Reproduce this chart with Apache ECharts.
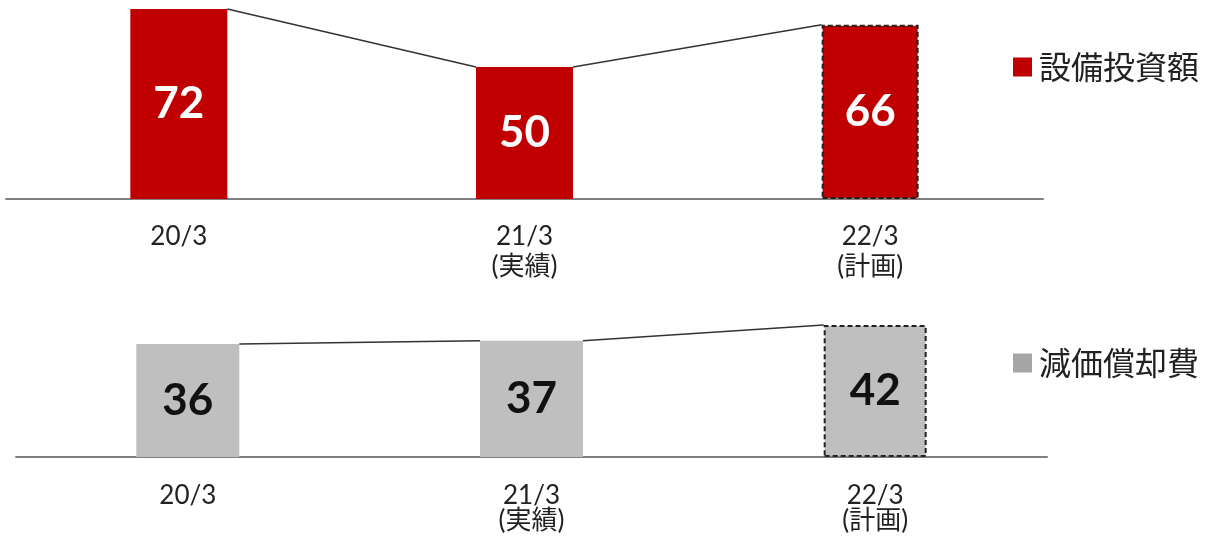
<!DOCTYPE html>
<html>
<head>
<meta charset="utf-8">
<script src="https://cdn.jsdelivr.net/npm/echarts@6/dist/echarts.min.js"></script>
<style>
  html, body { margin: 0; padding: 0; background: #fff; }
  #chart { width: 1208px; height: 537px; }
</style>
</head>
<body>
<div id="chart"></div>
<script>
// カテゴリ
const categories = ['20/3', '21/3\n(実績)', '22/3\n(計画)']
// 設備投資額
const capexValues = [72, 50, 66]
// 減価償却費
const deprValues = [36, 37, 42]
// 計画値（点線枠）のインデックス
const planIndex = 2

const RED = '#C00000'
const GRAY = '#BFBFBF'
const TOP_BAR_W = 97
const BOT_BAR_W = 103
const FONT = 'Lato, "Noto Sans CJK JP", sans-serif'

// 隣り合う棒の角を結ぶ線
function connector(barW) {
  return function(params, api) {
    const i = api.value(0)
    const a = api.coord([i, api.value(1)])
    const b = api.coord([i + 1, api.value(2)])
    const hw = barW / 2
    return {
      type: 'line',
      shape: { x1: a[0] + hw, y1: a[1], x2: b[0] - hw, y2: b[1] },
      style: { stroke: '#333', lineWidth: 1.5 }
    }
  }
}

function pairs(values) {
  const out = []
  for (let i = 0; i < values.length - 1; i++) out.push([i, values[i], values[i + 1]])
  return out
}

function barData(values) {
  return values.map((v, i) => {
    if (i !== planIndex) return v
    return {
      value: v,
      itemStyle: { borderColor: '#222', borderWidth: 2, borderType: [5, 3] }
    }
  })
}

function xAxis(gridIndex, lineHeight, margin) {
  return {
    type: 'category',
    gridIndex,
    data: categories,
    axisTick: { show: false },
    axisLine: { lineStyle: { color: '#808080', width: 2 } },
    axisLabel: {
      margin,
      color: '#222',
      fontSize: 26,
      lineHeight,
      fontFamily: FONT,
      interval: 0
    }
  }
}

function yAxis(gridIndex, max) {
  return {
    type: 'value',
    gridIndex,
    min: 0,
    max,
    show: false,
    splitLine: { show: false }
  }
}

const myChart = echarts.init(document.getElementById('chart'))
myChart.setOption({
  animation: false,
  grid: [
    { left: 6, width: 1037, top: 9, height: 190 },
    { left: 16, width: 1031, top: 300, height: 157 }
  ],
  xAxis: [xAxis(0, 30, 23), xAxis(1, 25, 26)],
  yAxis: [yAxis(0, 72), yAxis(1, 50)],
  legend: [
    {
      data: ['設備投資額'],
      left: 1008,
      top: 44,
      icon: 'rect',
      itemWidth: 19,
      itemHeight: 19,
      textStyle: { fontSize: 32, color: '#222', fontFamily: '"Noto Sans CJK JP"', lineHeight: 36, padding: [0, 0, 0, 2] }
    },
    {
      data: [{ name: '減価償却費', itemStyle: { color: '#A6A6A6' } }],
      left: 1008,
      top: 340,
      icon: 'rect',
      itemWidth: 19,
      itemHeight: 19,
      textStyle: { fontSize: 32, color: '#222', fontFamily: '"Noto Sans CJK JP"', lineHeight: 36, padding: [0, 0, 0, 2] }
    }
  ],
  series: [
    {
      name: '設備投資額',
      type: 'bar',
      xAxisIndex: 0,
      yAxisIndex: 0,
      barWidth: TOP_BAR_W,
      data: barData(capexValues),
      itemStyle: { color: RED },
      label: {
        show: true,
        position: 'inside',
        color: '#fff',
        fontSize: 44,
        fontWeight: 'bold',
        fontFamily: FONT
      }
    },
    {
      type: 'custom',
      xAxisIndex: 0,
      yAxisIndex: 0,
      silent: true,
      z: 3,
      renderItem: connector(TOP_BAR_W),
      data: pairs(capexValues)
    },
    {
      name: '減価償却費',
      type: 'bar',
      xAxisIndex: 1,
      yAxisIndex: 1,
      barWidth: BOT_BAR_W,
      data: barData(deprValues),
      itemStyle: { color: GRAY },
      label: {
        show: true,
        position: 'inside',
        color: '#111',
        fontSize: 44,
        fontWeight: 'bold',
        fontFamily: FONT
      }
    },
    {
      type: 'custom',
      xAxisIndex: 1,
      yAxisIndex: 1,
      silent: true,
      z: 3,
      renderItem: connector(BOT_BAR_W),
      data: pairs(deprValues)
    }
  ]
})
</script>
</body>
</html>
